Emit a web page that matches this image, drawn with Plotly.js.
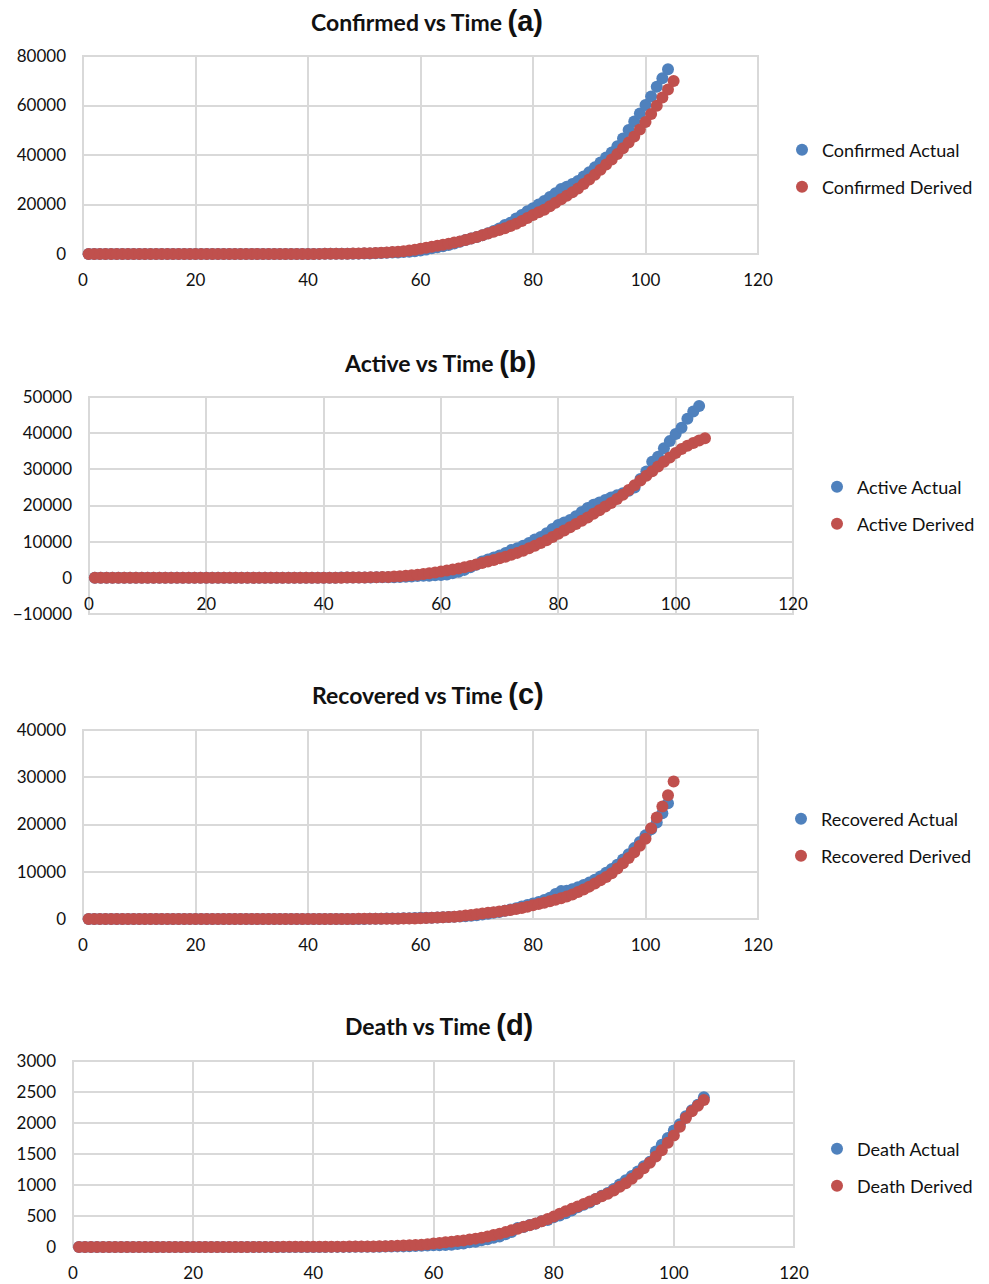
<!DOCTYPE html>
<html>
<head>
<meta charset="utf-8">
<script src="https://cdn.plot.ly/plotly-3.0.1.min.js"></script>
<style>html,body{margin:0;padding:0;background:#fff;}#chart{width:989px;height:1284px;}</style>
</head>
<body>
<div id="chart"></div>
<script>
// Day index (time)
var daysActual = [1,2,3,4,5,6,7,8,9,10,11,12,13,14,15,16,17,18,19,20,21,22,23,24,25,26,27,28,29,30,31,32,33,34,35,36,37,38,39,40,41,42,43,44,45,46,47,48,49,50,51,52,53,54,55,56,57,58,59,60,61,62,63,64,65,66,67,68,69,70,71,72,73,74,75,76,77,78,79,80,81,82,83,84,85,86,87,88,89,90,91,92,93,94,95,96,97,98,99,100,101,102,103,104];
var daysDerived = [1,2,3,4,5,6,7,8,9,10,11,12,13,14,15,16,17,18,19,20,21,22,23,24,25,26,27,28,29,30,31,32,33,34,35,36,37,38,39,40,41,42,43,44,45,46,47,48,49,50,51,52,53,54,55,56,57,58,59,60,61,62,63,64,65,66,67,68,69,70,71,72,73,74,75,76,77,78,79,80,81,82,83,84,85,86,87,88,89,90,91,92,93,94,95,96,97,98,99,100,101,102,103,104,105];

// (a) Confirmed
var confirmedActual = [1,1,1,2,3,3,3,3,3,3,3,3,3,3,3,3,3,3,3,3,3,3,3,3,3,3,3,3,3,3,
  3,3,3,5,6,28,30,31,34,39,
  43,50,73,75,83,90,114,129,151,173,
  236,300,390,480,560,650,790,950,1150,1400,
  1800,2300,2700,3100,3600,4200,4900,5700,6300,6900,
  7600,8400,9300,10300,11700,12600,14300,15800,17300,18500,
  20000,21400,23000,24500,26300,27200,28300,29500,31300,33000,
  35000,37000,39000,41000,43500,46700,50100,53500,56800,60200,
  63600,67600,71000,74600];
var confirmedDerived = [1,1,1,1,2,2,2,2,2,3,3,3,3,4,4,4,5,5,5,6,6,7,7,8,9,9,10,11,12,13,
  14,15,17,18,20,22,24,26,29,32,
  38,48,60,75,95,115,145,180,220,270,
  330,410,500,620,760,920,1150,1450,1750,2100,
  2500,2950,3300,3700,4100,4600,5100,5700,6300,6900,
  7600,8300,9000,9700,10400,11300,12200,13300,14500,15800,
  16900,17900,19300,20700,22100,23500,24900,26500,28300,30100,
  32000,34000,36200,38200,40400,42700,45000,47500,50300,53300,
  56600,59900,63200,66500,69900];

// (b) Active
var activeActual = [1,1,1,2,3,3,3,3,3,3,3,3,3,3,3,0,0,0,0,0,0,0,0,0,0,0,0,0,0,0,
  0,0,0,2,3,25,27,28,31,36,
  40,47,70,71,79,79,99,113,135,150,
  150,190,250,320,400,480,550,600,700,800,
  900,1300,1700,2200,2900,3600,4500,5100,5600,6200,
  6900,7700,8200,8900,9600,10600,11300,12300,13500,14600,
  15300,16000,17000,18200,19300,20200,20800,21500,22200,22800,
  23400,24100,25000,27300,29400,32100,33500,35800,37800,39800,
  41500,44000,46000,47500];
var activeDerived = [1,1,1,1,2,2,2,2,2,3,3,3,3,4,4,4,5,5,5,6,6,7,7,8,9,9,10,11,12,13,
  14,15,17,18,20,22,24,27,30,34,
  38,44,52,62,75,90,110,135,165,200,
  260,340,440,560,700,860,1040,1250,1480,1730,
  2000,2300,2600,2950,3300,3700,4100,4500,4950,5400,
  5850,6350,6900,7500,8150,8850,9600,10400,11300,12200,
  13100,14000,14900,15800,16700,17700,18700,19700,20700,21800,
  23000,24300,25600,26900,28200,29500,30800,32100,33300,34500,
  35600,36500,37300,38000,38600];

// (c) Recovered
var recoveredActual = [0,0,0,0,0,0,0,0,0,0,0,0,0,0,0,3,3,3,3,3,3,3,3,3,3,3,3,3,3,3,
  3,3,3,3,3,3,3,3,3,3,
  3,3,3,4,4,10,13,14,14,20,
  40,50,60,80,100,120,150,180,210,240,
  250,280,310,350,400,450,520,600,700,800,
  950,1100,1300,1500,1750,2000,2300,2650,2950,3300,
  3600,4000,4500,5300,5900,6000,6300,6700,7200,7700,
  8300,9000,9800,10600,11500,12600,13700,15000,16300,17700,
  19000,20400,22400,24500];
var recoveredDerived = [0,0,0,0,0,0,0,0,0,0,1,1,1,1,1,1,1,1,1,2,2,2,2,2,2,3,3,3,3,3,
  4,4,4,5,5,6,6,7,8,9,
  10,11,12,14,16,18,21,24,28,32,
  37,42,48,55,63,72,83,95,120,150,
  190,240,300,360,430,500,600,720,850,1000,
  1150,1300,1450,1600,1750,1900,2100,2350,2600,2900,
  3150,3450,3750,4050,4400,4750,5200,5700,6250,6850,
  7500,8200,8900,9700,10700,11800,12900,14100,15500,17000,
  19200,21500,23800,26200,29100];

// (d) Death
var deathActual = [0,0,0,0,0,0,0,0,0,0,0,0,0,0,0,0,0,0,0,0,0,0,0,0,0,0,0,0,0,0,
  0,0,0,0,0,0,0,0,0,0,
  0,1,2,2,2,2,3,3,4,4,
  4,7,9,10,10,13,17,20,24,27,
  29,32,35,50,56,75,83,109,124,149,
  169,206,242,308,324,353,377,414,437,480,
  507,543,590,640,681,718,775,826,872,934,
  1007,1075,1147,1218,1301,1373,1540,1650,1760,1880,
  1981,2109,2206,2293,2415];
var deathDerived = [0,0,0,0,0,0,0,0,0,0,0,0,0,0,0,0,0,0,0,1,1,1,1,1,1,1,1,1,1,2,
  2,2,2,2,3,3,3,3,4,4,
  4,5,5,6,6,7,7,8,8,9,
  11,13,16,19,23,27,32,35,45,55,
  65,75,85,95,105,120,135,150,170,195,
  215,240,270,295,325,350,380,415,450,490,
  535,575,615,655,695,735,775,820,860,910,
  970,1030,1100,1180,1270,1360,1460,1560,1680,1800,
  1940,2080,2190,2280,2371];

var blue = '#4f81bd', red = '#c0504d', grid = '#d9d9d9';
var W = 989, H = 1284;
function px(x){ return x / W; }
function py(y){ return (H - y) / H; }

var panels = [
  {name:'Confirmed', tag:'(a)', act:confirmedActual, der:confirmedDerived, dAct:daysActual, dDer:daysDerived,
   x0:83, x1:758, y0:56, y1:254, ymin:0, ymax:80000, dt:20000, titleY:21, titleX:427, legX:824, legY:[150,187]},
  {name:'Active', tag:'(b)', act:activeActual, der:activeDerived, dAct:daysActual, dDer:daysDerived,
   x0:89, x1:793, y0:397, y1:614, ymin:-10000, ymax:50000, dt:10000, titleY:362, titleX:440, legX:859, legY:[487,524]},
  {name:'Recovered', tag:'(c)', act:recoveredActual, der:recoveredDerived, dAct:daysActual, dDer:daysDerived,
   x0:83, x1:758, y0:730, y1:919, ymin:0, ymax:40000, dt:10000, titleY:694, titleX:428, legX:823, legY:[819,856]},
  {name:'Death', tag:'(d)', act:deathActual, der:deathDerived, dAct:daysDerived, dDer:daysDerived,
   x0:73, x1:794, y0:1061, y1:1247, ymin:0, ymax:3000, dt:500, titleY:1025, titleX:439, legX:859, legY:[1149,1186]}
];

var traces = [];
var layout = {
  width: W, height: H,
  margin: {l:0, r:0, t:0, b:0},
  paper_bgcolor: '#fff', plot_bgcolor: '#fff',
  font: {family: 'Lato, "Open Sans", sans-serif', color: '#111', size: 17},
  annotations: [], shapes: [],
  showlegend: true
};
var tickFont = {family: 'Lato, sans-serif', size: 17, color: '#111'};
var legFont = {family: 'Lato, sans-serif', size: 18, color: '#111'};

panels.forEach(function(p, i){
  var n = i + 1;
  var suf = (n === 1 ? '' : String(n));
  var xa = 'x' + suf, ya = 'y' + suf;
  var xk = 'xaxis' + suf, yk = 'yaxis' + suf;
  var lg1 = 'legend' + (i === 0 ? '' : (2*i + 1));
  var lg2 = 'legend' + (2*i + 2);
  traces.push({
    type: 'scatter', mode: 'markers', x: p.dAct, y: p.act,
    name: p.name + ' Actual', xaxis: xa, yaxis: ya, legend: lg1,
    marker: {color: blue, size: 12, line: {width: 0}}, cliponaxis: false
  });
  traces.push({
    type: 'scatter', mode: 'markers', x: p.dDer, y: p.der,
    name: p.name + ' Derived', xaxis: xa, yaxis: ya, legend: lg2,
    marker: {color: red, size: 12, line: {width: 0}}, cliponaxis: false
  });
  var yDom = [py(p.y1), py(p.y0)];
  var xaxis = {
    domain: [px(p.x0), px(p.x1)], range: [0, 120], dtick: 20, tick0: 0,
    showgrid: true, gridcolor: grid, gridwidth: 2, zeroline: false,
    showline: false, ticks: '', tickfont: tickFont, ticklabelstandoff: 14,
    fixedrange: true
  };
  if (p.ymin < 0) {
    xaxis.anchor = 'free';
    xaxis.position = yDom[0] + (yDom[1] - yDom[0]) * (0 - p.ymin) / (p.ymax - p.ymin);
  } else {
    xaxis.anchor = ya;
  }
  layout[xk] = xaxis;
  layout[yk] = {
    domain: yDom, range: [p.ymin, p.ymax], dtick: p.dt, tick0: 0, anchor: xa,
    showgrid: true, gridcolor: grid, gridwidth: 2, zeroline: false,
    showline: false, ticks: '', tickfont: tickFont, ticklabelstandoff: 16,
    tickformat: 'd', fixedrange: true
  };
  layout.shapes.push({type: 'rect', xref: xa + ' domain', yref: ya + ' domain',
    x0: 0, x1: 1, y0: 0, y1: 1, line: {color: grid, width: 2}, layer: 'below'});
  layout[lg1] = {x: px(p.legX - 42), y: py(p.legY[0]), xanchor: 'left', yanchor: 'middle',
    font: legFont, bgcolor: 'rgba(0,0,0,0)', borderwidth: 0};
  layout[lg2] = {x: px(p.legX - 42), y: py(p.legY[1]), xanchor: 'left', yanchor: 'middle',
    font: legFont, bgcolor: 'rgba(0,0,0,0)', borderwidth: 0};
  layout.annotations.push({
    xref: 'paper', yref: 'paper', x: px(p.titleX), y: py(p.titleY),
    xanchor: 'center', yanchor: 'middle', showarrow: false,
    text: '<b>' + p.name + ' vs Time </b><span style="font-family:\'Liberation Sans Narrow\', \'Liberation Sans\', Arial, sans-serif;font-size:29px"><b>' + p.tag + '</b></span>',
    font: {family: 'Lato, sans-serif', size: 23, color: '#111'}
  });
});

Plotly.newPlot('chart', traces, layout, {staticPlot: true, displayModeBar: false});
</script>
</body>
</html>
